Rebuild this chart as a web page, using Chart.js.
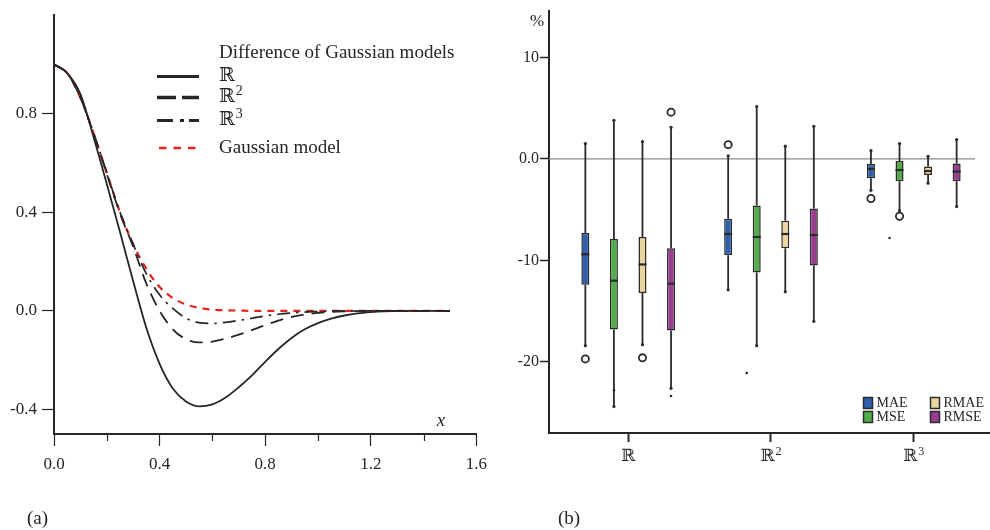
<!DOCTYPE html>
<html><head><meta charset="utf-8">
<script src="https://cdn.jsdelivr.net/npm/chart.js@4.4.1/dist/chart.umd.min.js"></script>
<style>
html,body{margin:0;padding:0;background:#fff;width:990px;height:530px;overflow:hidden}
body{position:relative}
canvas{position:absolute;top:0}
#ca{left:0}
#cb{left:495px}
.lab{position:absolute;font-family:"Liberation Serif","DejaVu Serif",serif;font-size:19px;line-height:1;color:#222}
</style></head><body>
<canvas id="ca" width="495" height="530" style="width:495px;height:530px"></canvas>
<canvas id="cb" width="495" height="530" style="width:495px;height:530px"></canvas>
<div class="lab" style="left:27px;top:508px">(a)</div>
<div class="lab" style="left:558px;top:508px">(b)</div>
<script>
// ---------- panel (a) data ----------
const xValues = [0,0.05,0.1,0.15,0.2,0.25,0.3,0.35,0.4,0.45,0.5,0.55,0.6,0.65,0.7,0.75,0.8,0.85,0.9,0.95,1.0,1.05,1.1,1.15,1.2,1.25,1.3,1.35,1.4,1.45,1.5];
const seriesR  = [1,0.965,0.88,0.705,0.515,0.32,0.12,-0.07,-0.215,-0.315,-0.368,-0.388,-0.38,-0.352,-0.31,-0.262,-0.207,-0.155,-0.11,-0.075,-0.05,-0.032,-0.019,-0.01,-0.005,-0.002,-0.001,0,0,0,0];
const seriesR2 = [1,0.965,0.865,0.72,0.555,0.395,0.26,0.11,0.0,-0.075,-0.115,-0.128,-0.125,-0.113,-0.097,-0.078,-0.058,-0.04,-0.025,-0.015,-0.008,-0.004,-0.002,-0.001,0,0,0,0,0,0,0];
const seriesR3 = [1,0.965,0.865,0.72,0.56,0.4,0.27,0.15,0.065,0.01,-0.03,-0.048,-0.051,-0.047,-0.039,-0.03,-0.021,-0.014,-0.009,-0.005,-0.003,-0.001,0,0,0,0,0,0,0,0,0];
const seriesGauss = [1,0.965,0.865,0.72,0.56,0.4,0.27,0.17,0.097,0.052,0.026,0.012,0.005,0.002,0.001,0,0,0,0,0,0,0,0,0,0,0,0,0,0,0,0];
const seriesLabels = ['ℝ','ℝ²','ℝ³','Gaussian model'];
const legendTitleA = 'Difference of Gaussian models';
const xTicksA = [0,0.4,0.8,1.2,1.6];
const xMinorA = [0.2,0.6,1.0,1.4];
const yTicksA = [-0.4,0,0.4,0.8];

// ---------- panel (b) data ----------
const groups = ['ℝ','ℝ²','ℝ³'];
const groupPos = [1,2,3];
const metrics = ['MAE','MSE','RMAE','RMSE'];
const whiskerLow = [[-18.4,-12.9,-3.1],[-24.4,-18.4,-5.1],[-18.3,-13.1,-2.4],[-22.6,-16.0,-4.7]];
const quart1     = [[-12.4,-9.5,-1.9],[-16.8,-11.2,-2.2],[-13.2,-8.8,-1.6],[-16.9,-10.5,-2.2]];
const medians    = [[-9.4,-7.4,-1.0],[-12.0,-7.7,-1.1],[-10.4,-7.4,-1.2],[-12.3,-7.5,-1.25]];
const quart3     = [[-7.3,-5.9,-0.5],[-7.9,-4.6,-0.2],[-7.7,-6.1,-0.75],[-8.8,-4.9,-0.45]];
const whiskerHigh= [[1.5,0.3,0.8],[3.8,5.15,1.5],[1.7,1.25,0.25],[3.1,3.2,1.9]];
const outlierPts = [[[-19.7],[1.4],[-3.9]],[[],[],[-5.65]],[[-19.6],[],[]],[[4.6],[],[]]];
const farPts     = [[[],[],[]],[[-22.8],[-21.1],[-7.8]],[[],[],[]],[[-23.35],[],[]]];
const yTicksB = [10,0,-10,-20];

const serif = '"Liberation Serif","DejaVu Serif","DejaVu Sans",serif';
const ink = '#262626';
const red = '#e8231f';
const boxColors = ['#2d5fae','#52ad4a','#ead59c','#983d90'];
const supMap = {'²':'2','³':'3'};

function pts(ys){ return xValues.map((x,i)=>({x:x,y:ys[i]})); }

// draws "ℝ" with a readable superscript digit; align 'left' or 'center'
function drawSpaceLabel(ctx, text, x, y, size, align){
  const last = text.slice(-1);
  const base = supMap[last] ? text.slice(0,-1) : text;
  const sup = supMap[last] || '';
  ctx.font = size + 'px ' + serif;
  const wb = ctx.measureText(base).width;
  ctx.font = Math.round(size*0.72) + 'px ' + serif;
  const ws = sup ? ctx.measureText(sup).width + 1 : 0;
  let x0 = align === 'center' ? x - (wb+ws)/2 : x;
  ctx.textAlign = 'left';
  ctx.textBaseline = 'middle';
  ctx.font = size + 'px ' + serif;
  ctx.fillText(base, x0, y);
  if (sup){
    ctx.font = Math.round(size*0.72) + 'px ' + serif;
    ctx.fillText(sup, x0 + wb + 1, y - size*0.32);
  }
}

const lineStyles = [
  {color:ink, width:1.8, dash:[], legW:3.2, legDash:[]},
  {color:ink, width:1.8, dash:[13,8], legW:3.6, legDash:[19,6]},
  {color:ink, width:1.7, dash:[13,6,2.5,6], legW:3.2, legDash:[16,7,4,5]},
  {color:red, width:2.2, dash:[7,6], legW:2.6, legDash:[7.5,7]}
];
const seriesAll = [seriesR, seriesR2, seriesR3, seriesGauss];

const legendA = {
  id:'legendA',
  afterDraw(chart){
    const ctx = chart.ctx;
    ctx.save();
    ctx.font = '19px ' + serif;
    ctx.fillStyle = ink;
    ctx.textBaseline = 'middle';
    ctx.textAlign = 'left';
    ctx.fillText(legendTitleA, 219, 53);
    const rowsY = [76.5, 97.5, 120.5, 148];
    chart.data.datasets.forEach((ds,i)=>{
      const st = lineStyles[i];
      ctx.strokeStyle = st.color;
      ctx.lineWidth = st.legW;
      ctx.setLineDash(st.legDash);
      ctx.beginPath();
      ctx.moveTo(i===3?159:157, rowsY[i]);
      ctx.lineTo(199, rowsY[i]);
      ctx.stroke();
      ctx.setLineDash([]);
      ctx.fillStyle = ink;
      drawSpaceLabel(ctx, ds.label, 219, rowsY[i], 19, 'left');
    });
    // minor ticks
    const xs = chart.scales.x, b = chart.chartArea.bottom;
    ctx.strokeStyle = ink; ctx.lineWidth = 1.2;
    xMinorA.forEach(v=>{
      const px = Math.round(xs.getPixelForValue(v))+0.5;
      ctx.beginPath(); ctx.moveTo(px,b); ctx.lineTo(px,b+7); ctx.stroke();
    });
    // axis variable label
    ctx.font = 'italic 19px ' + serif;
    ctx.textAlign = 'center';
    ctx.fillText('x', 441, 421);
    ctx.restore();
  }
};

new Chart(document.getElementById('ca'), {
  type:'line',
  data:{datasets: seriesAll.map((s,i)=>({
    label: seriesLabels[i], data: pts(s), borderColor: lineStyles[i].color,
    borderWidth: lineStyles[i].width, borderDash: lineStyles[i].dash,
    pointRadius:0, fill:false, tension:0.4, cubicInterpolationMode:'monotone'
  }))},
  options:{
    responsive:false, animation:false, devicePixelRatio:1,
    layout:{padding:{top:6,right:16,left:0,bottom:0}},
    plugins:{legend:{display:false}, tooltip:{enabled:false}},
    scales:{
      x:{type:'linear', min:0, max:1.6, offset:false,
        afterBuildTicks:s=>{s.ticks = xTicksA.map(v=>({value:v}));},
        afterFit:s=>{s.height = 96;},
        ticks:{font:{family:serif,size:17}, color:ink, padding:8, maxRotation:0, autoSkip:false, callback:v=>Number(v).toFixed(1)},
        grid:{drawOnChartArea:false, drawTicks:true, tickLength:12, tickColor:ink, tickWidth:1.2, offset:false},
        border:{color:ink, width:2}},
      y:{type:'linear', min:-0.5, max:1.2,
        afterBuildTicks:s=>{s.ticks = yTicksA.map(v=>({value:v}));},
        afterFit:s=>{s.width = 54;},
        ticks:{font:{family:serif,size:17}, color:ink, padding:5, autoSkip:false, callback:v=>Number(v).toFixed(1)},
        grid:{drawOnChartArea:false, drawTicks:true, tickLength:12, tickColor:ink, tickWidth:1.2},
        border:{color:ink, width:2}}
    }
  },
  plugins:[legendA]
});

// ---------- panel (b) ----------
const boxParts = {
  id:'boxParts',
  beforeDatasetsDraw(chart){
    const ctx = chart.ctx, y = chart.scales.y, a = chart.chartArea;
    ctx.save();
    ctx.strokeStyle = '#8a8a8a'; ctx.lineWidth = 1.3;
    const y0 = y.getPixelForValue(0);
    ctx.beginPath(); ctx.moveTo(a.left, y0); ctx.lineTo(a.right-15, y0); ctx.stroke();
    chart.data.datasets.forEach((ds,k)=>{
      chart.getDatasetMeta(k).data.forEach((bar,j)=>{
        const x = bar.x;
        const top = y.getPixelForValue(whiskerHigh[k][j]);
        const bot = y.getPixelForValue(whiskerLow[k][j]);
        ctx.strokeStyle = '#2b2b2b'; ctx.lineWidth = 1.8;
        ctx.beginPath();
        ctx.moveTo(x, top); ctx.lineTo(x, y.getPixelForValue(quart3[k][j]));
        ctx.moveTo(x, y.getPixelForValue(quart1[k][j])); ctx.lineTo(x, bot);
        ctx.stroke();
        ctx.fillStyle = '#2b2b2b';
        [top,bot].forEach(py=>{ctx.beginPath(); ctx.arc(x, py, 1.6, 0, Math.PI*2); ctx.fill();});
      });
    });
    ctx.restore();
  },
  afterDatasetsDraw(chart){
    const ctx = chart.ctx, y = chart.scales.y, xs = chart.scales.x;
    ctx.save();
    chart.data.datasets.forEach((ds,k)=>{
      chart.getDatasetMeta(k).data.forEach((bar,j)=>{
        const x = bar.x, w = bar.width;
        const m = y.getPixelForValue(medians[k][j]);
        ctx.strokeStyle = '#2b2b2b'; ctx.lineWidth = 2.2;
        ctx.beginPath(); ctx.moveTo(x-w/2, m); ctx.lineTo(x+w/2, m); ctx.stroke();
        ctx.lineWidth = 1.8;
        outlierPts[k][j].forEach(v=>{
          ctx.beginPath(); ctx.arc(x, y.getPixelForValue(v), 3.6, 0, Math.PI*2);
          ctx.fillStyle = '#fff'; ctx.fill(); ctx.stroke();
        });
        ctx.fillStyle = '#2b2b2b';
        farPts[k][j].forEach(v=>{
          ctx.beginPath(); ctx.arc(x - (k===1 && j>0 ? 10 : 0), y.getPixelForValue(v), 1.3, 0, Math.PI*2); ctx.fill();
        });
      });
    });
    // legend
    const legPos = [[368,397],[368,411],[435,397],[435,411]];
    ctx.font = '14px ' + serif; ctx.textBaseline = 'middle'; ctx.textAlign = 'left';
    chart.data.datasets.forEach((ds,k)=>{
      const [lx,ly] = legPos[k];
      ctx.fillStyle = ds.backgroundColor; ctx.fillRect(lx, ly, 10, 12);
      ctx.strokeStyle = '#2b2b2b'; ctx.lineWidth = 1.5; ctx.strokeRect(lx+0.5, ly+0.5, 9, 11);
      ctx.fillStyle = ink; ctx.font = '14px ' + serif; ctx.fillText(ds.label, lx+13.5, ly+6);
    });
    ctx.font = '17px ' + serif;
    ctx.fillText('%', 35, 22);
    // category labels with readable superscripts
    ctx.fillStyle = ink;
    groupPos.forEach((v,i)=>{
      drawSpaceLabel(ctx, groups[i], xs.getPixelForValue(v), chart.chartArea.bottom + 24, 17, 'center');
    });
    ctx.restore();
  }
};

new Chart(document.getElementById('cb'), {
  type:'bar',
  data:{datasets: metrics.map((m,k)=>({
    label: m,
    data: groupPos.map((x,j)=>({x:x, y:[quart1[k][j], quart3[k][j]]})),
    backgroundColor: boxColors[k], borderColor:'#2b2b2b', borderWidth:1.5, borderSkipped:false,
    categoryPercentage:0.8, barPercentage:0.28
  }))},
  options:{
    responsive:false, animation:false, devicePixelRatio:1,
    layout:{padding:{top:10,right:0,left:0,bottom:0}},
    plugins:{legend:{display:false}, tooltip:{enabled:false}},
    scales:{
      x:{type:'linear', min:0.4454, max:3.5336, offset:false,
        afterBuildTicks:s=>{s.ticks = groupPos.map(v=>({value:v}));},
        afterFit:s=>{s.height = 97;},
        ticks:{display:false},
        grid:{drawOnChartArea:false, drawTicks:true, tickLength:9, tickColor:ink, tickWidth:2, offset:false},
        border:{color:ink, width:2}},
      y:{type:'linear', min:-27, max:14.6,
        afterBuildTicks:s=>{s.ticks = yTicksB.map(v=>({value:v}));},
        afterFit:s=>{s.width = 54;},
        ticks:{font:{family:serif,size:16}, color:ink, padding:1, autoSkip:false, callback:v=> v===0 ? '0.0' : String(v)},
        grid:{drawOnChartArea:false, drawTicks:true, tickLength:9, tickColor:ink, tickWidth:1.5},
        border:{color:ink, width:2}}
    }
  },
  plugins:[boxParts]
});
</script>
</body></html>
